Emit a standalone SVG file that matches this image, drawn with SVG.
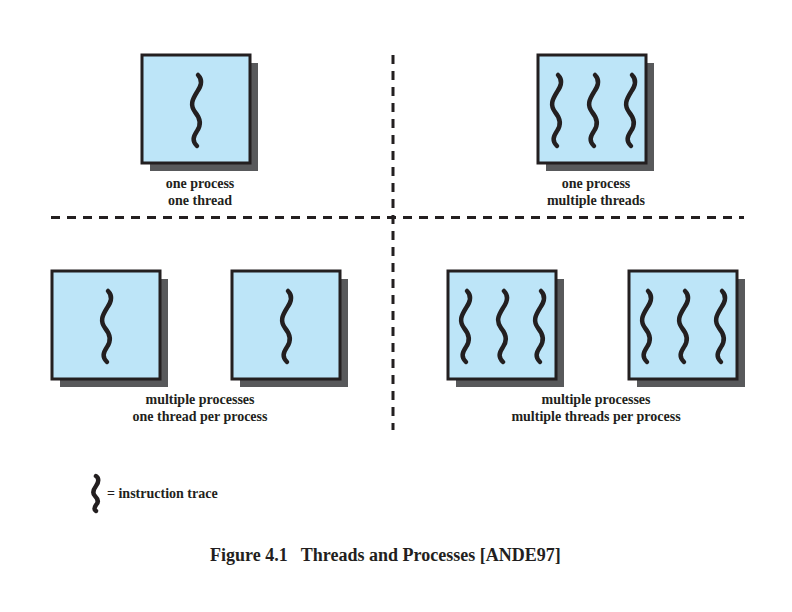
<svg xmlns="http://www.w3.org/2000/svg" xmlns:xlink="http://www.w3.org/1999/xlink" width="792" height="612" viewBox="0 0 792 612">
<style>
.box{fill:#bde5f8;stroke:#231f20;stroke-width:3}
.shadow{fill:#58595b}
.wave{fill:none;stroke:#231f20;stroke-width:4.5;stroke-linecap:round}
.dash{stroke:#231f20;stroke-width:3;stroke-dasharray:9 7;fill:none}
.lbl{font-family:"Liberation Serif","Times New Roman",serif;font-weight:bold;font-size:14px;fill:#231f20;text-anchor:middle}
.cap{font-family:"Liberation Serif","Times New Roman",serif;font-weight:bold;font-size:18px;fill:#231f20}
</style>
<defs>
<path id="w" class="wave" d="M 2 0 C 6 4, 6 10, 1 17 C -4 25, -6 30, -1 37 C 4 43, 6 49, 1 56 C -3 62, -4 66, 1 71"/>
</defs>
<g id="dividers">
<line class="dash" x1="393" y1="55" x2="393" y2="430"/>
<line class="dash" x1="51" y1="217.5" x2="744" y2="217.5"/>
</g>
<g id="p1">
<rect class="shadow" x="150" y="63" width="108" height="108"/>
<rect class="box" x="142" y="55" width="108" height="108"/>
<use xlink:href="#w" x="196" y="75"/>
<text class="lbl" x="200" y="188">one process</text>
<text class="lbl" x="200" y="205">one thread</text>
</g>
<g id="p2">
<rect class="shadow" x="546" y="63" width="108" height="108"/>
<rect class="box" x="538" y="55" width="108" height="108"/>
<use xlink:href="#w" x="556" y="75"/>
<use xlink:href="#w" x="593" y="75"/>
<use xlink:href="#w" x="630" y="75"/>
<text class="lbl" x="596" y="188">one process</text>
<text class="lbl" x="596" y="205">multiple threads</text>
</g>
<g id="p3">
<rect class="shadow" x="60" y="279" width="108" height="108"/>
<rect class="box" x="52" y="271" width="108" height="108"/>
<use xlink:href="#w" x="106" y="291"/>
</g>
<g id="p4">
<rect class="shadow" x="240" y="279" width="108" height="108"/>
<rect class="box" x="232" y="271" width="108" height="108"/>
<use xlink:href="#w" x="286" y="291"/>
</g>
<g id="label-bl">
<text class="lbl" x="200" y="404">multiple processes</text>
<text class="lbl" x="200" y="421">one thread per process</text>
</g>
<g id="p5">
<rect class="shadow" x="456" y="279" width="108" height="108"/>
<rect class="box" x="448" y="271" width="108" height="108"/>
<use xlink:href="#w" x="465" y="291"/>
<use xlink:href="#w" x="502" y="291"/>
<use xlink:href="#w" x="539" y="291"/>
</g>
<g id="p6">
<rect class="shadow" x="637" y="279" width="108" height="108"/>
<rect class="box" x="629" y="271" width="108" height="108"/>
<use xlink:href="#w" x="646" y="291"/>
<use xlink:href="#w" x="683" y="291"/>
<use xlink:href="#w" x="720" y="291"/>
</g>
<g id="label-br">
<text class="lbl" x="596" y="404">multiple processes</text>
<text class="lbl" x="596" y="421">multiple threads per process</text>
</g>
<g id="legend">
<path class="wave" stroke-width="3" d="M 96 476 C 99 478, 99 482, 96 486 C 93 490, 92 493, 95 496 C 98 499, 99 502, 96 505 C 94 508, 94 510, 96 511"/>
<text class="lbl" x="107" y="498" style="text-anchor:start">= instruction trace</text>
</g>
<g id="caption">
<text class="cap" x="210" y="561" xml:space="preserve">Figure 4.1   Threads and Processes [ANDE97]</text>
</g>
</svg>
